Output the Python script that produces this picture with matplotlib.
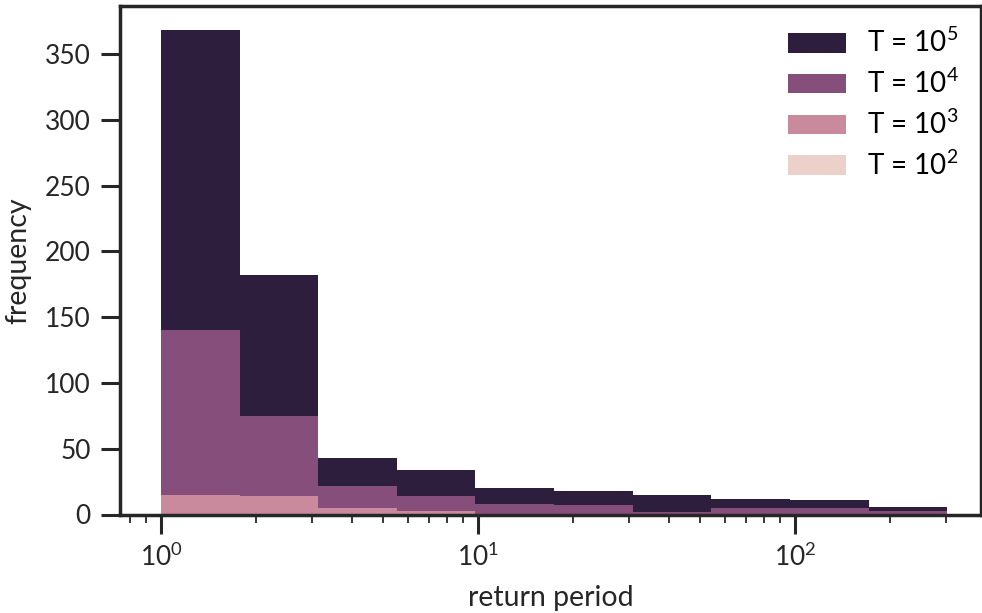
import numpy as np
import matplotlib
matplotlib.use("Agg")
import matplotlib.pyplot as plt

plt.rcParams["font.family"] = ["Lato", "DejaVu Sans"]
plt.rcParams["mathtext.fontset"] = "custom"
plt.rcParams["mathtext.rm"] = "Lato"
plt.rcParams["mathtext.it"] = "Lato:italic"
plt.rcParams["mathtext.bf"] = "Lato:bold"

# log-spaced return-period bins shared by all series
bin_edges = np.logspace(0, np.log10(302), 11)
bin_left = bin_edges[:-1]

# event counts per bin for each simulation length T
counts_1e5 = [368, 182, 43, 34, 20, 18, 15, 12, 11, 6]
counts_1e4 = [140, 75, 22, 14, 8, 7, 2, 5, 5, 3]
counts_1e3 = [15, 14, 5, 3, 0, 0, 0, 0, 0, 0]
counts_1e2 = [0, 0, 0, 0, 0, 0, 0, 0, 0, 0]

labels = [r"T = $10^5$", r"T = $10^4$", r"T = $10^3$", r"T = $10^2$"]
colors = ["#2d1e3e", "#854e7b", "#c98a9e", "#ecd0ca"]
series = [counts_1e5, counts_1e4, counts_1e3, counts_1e2]

fig = plt.figure(figsize=(9.82, 6.13), dpi=100)
ax = fig.add_axes([120 / 982, 1 - 514.5 / 613, (981 - 120) / 982, (514.5 - 6) / 613])

for vals, col, lab in zip(series, colors, labels):
    ax.hist(bin_left, bins=bin_edges, weights=vals, color=col, label=lab,
            histtype="bar", rwidth=1.0, linewidth=0)

ax.set_xscale("log")
x0 = 10 ** ((120 - 161) / 317)
x1 = 10 ** ((981 - 161) / 317)
ax.set_xlim(x0, x1)
ax.set_ylim(0, 386.4)
ax.set_yticks([0, 50, 100, 150, 200, 250, 300, 350])

text_col = "#262626"
for s in ax.spines.values():
    s.set_linewidth(2.5)
    s.set_color("#262626")
ax.tick_params(axis="both", which="major", length=14, width=2.2, direction="out",
               labelsize=19, colors="#262626", labelcolor=text_col, pad=7)
ax.tick_params(axis="x", which="minor", length=6, width=1.3, direction="out",
               colors="#262626")

ax.set_xlabel("return period", fontsize=20.5, color=text_col, labelpad=10)
ax.set_ylabel("frequency", fontsize=20.5, color=text_col, labelpad=10)

ax.legend(loc="upper right", frameon=False, fontsize=20, handlelength=2.1,
          handleheight=0.72, labelspacing=0.42, handletextpad=0.75,
          borderaxespad=0.4)

fig.savefig("out.png", dpi=100)
